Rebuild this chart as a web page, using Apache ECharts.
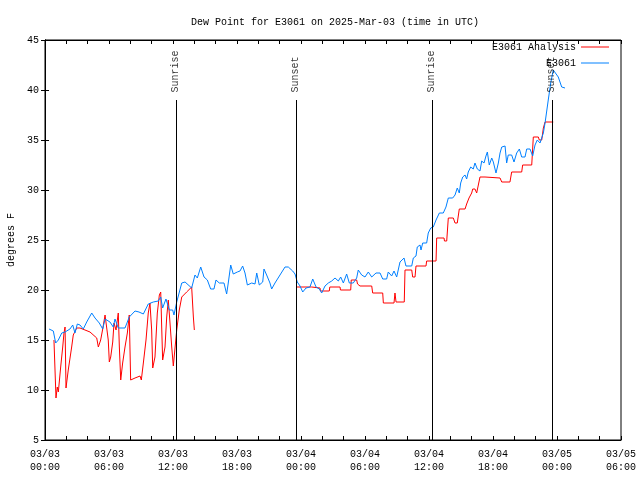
<!DOCTYPE html>
<html>
<head>
<meta charset="utf-8">
<script src="https://cdn.jsdelivr.net/npm/echarts@6/dist/echarts.min.js"></script>
<style>html,body{margin:0;padding:0;background:#fff;}#c{width:640px;height:480px;}</style>
</head>
<body>
<div id="c"></div>
<script>
// Hours since 2025-03-03 00:00 UTC
const obsHours = [0.38,0.78,1.00,1.25,1.57,1.88,2.34,2.60,2.81,3.03,3.28,3.59,3.91,4.38,4.69,5.09,5.41,5.63,6.09,6.40,6.56,6.87,7.50,7.90,8.44,8.81,9.22,9.68,10.15,10.62,10.85,11.03,11.34,11.65,11.97,12.09,12.35,12.82,13.13,13.75,14.06,14.28,14.60,14.91,15.22,15.53,15.84,16.03,16.34,16.78,17.03,17.18,17.41,17.65,18.03,18.28,18.53,18.75,18.97,19.38,19.69,19.85,20.09,20.41,20.53,20.78,21.09,21.25,21.56,22.03,22.50,22.81,23.22,23.44,23.65,23.91,24.16,24.47,24.84,25.10,25.41,25.72,25.94,26.25,26.56,26.88,27.19,27.50,27.72,27.97,28.28,28.53,28.90,29.22,29.37,29.69,30.00,30.31,30.63,31.03,31.41,31.66,32.03,32.18,32.50,32.72,32.97,33.28,33.66,33.84,34.38,34.53,34.78,34.90,35.16,35.25,35.41,35.78,35.93,36.16,36.40,36.66,36.97,37.34,37.59,37.81,38.22,38.44,38.65,38.84,38.97,39.16,39.38,39.53,39.68,39.91,40.15,40.31,40.53,40.78,40.94,41.16,41.34,41.47,41.65,41.88,42.03,42.28,42.50,42.66,42.82,43.13,43.28,43.43,43.75,43.97,44.22,44.47,44.69,45.00,45.16,45.47,45.72,45.94,46.15,46.41,46.57,46.72,46.88,47.18,47.41,47.65,47.81,48.12,48.44,48.75];
const obsValues = [16.1,15.9,14.7,15.0,15.7,15.8,16.1,16.5,15.7,16.6,16.5,16.1,16.8,17.7,17.2,16.7,16.1,17.1,16.8,16.3,17.1,16.2,16.2,17.3,17.9,17.8,17.6,18.6,18.8,18.9,19.3,18.2,19.1,18.0,18.0,17.5,18.8,20.7,20.8,20.2,21.5,21.2,22.3,21.3,21.0,20.1,20.1,21.0,20.7,20.7,19.6,20.7,22.5,21.6,21.8,21.9,22.4,21.7,20.5,20.7,20.6,21.7,20.5,20.8,22.1,21.5,20.7,20.1,20.7,21.5,22.3,22.3,21.9,21.6,20.8,20.4,19.8,20.2,20.3,21.1,20.3,20.1,19.7,20.4,20.7,20.9,21.2,20.9,21.3,20.7,21.6,20.7,20.7,21.2,22.0,21.5,21.3,21.8,21.3,21.7,21.7,21.1,21.1,21.8,21.4,21.9,21.3,22.8,23.2,22.4,22.4,23.2,23.4,24.3,24.5,24.0,24.7,24.7,25.7,26.2,26.3,27.0,27.7,27.7,28.3,29.2,29.2,29.5,30.2,29.7,30.7,31.3,31.5,31.1,31.8,32.3,32.1,32.7,32.1,31.9,32.9,32.7,33.4,33.8,32.5,33.2,32.8,31.7,32.7,33.7,34.3,34.4,32.7,33.5,33.5,32.8,33.7,34.1,33.3,33.3,34.1,34.1,33.4,34.5,35.0,34.7,34.8,35.7,36.7,39.0,40.7,42.0,42.2,41.3,40.3,40.2];

const anaHours = [0.84,1.03,1.15,1.25,1.47,1.66,1.78,1.88,1.97,2.18,2.50,2.65,2.97,3.28,3.75,4.22,4.85,5.00,5.22,5.41,5.63,5.78,5.93,6.03,6.16,6.35,6.47,6.66,6.87,6.97,7.10,7.28,7.50,7.72,7.90,8.03,8.44,8.91,9.03,9.22,9.47,9.68,9.84,10.00,10.10,10.31,10.53,10.72,10.85,10.94,11.03,11.25,11.41,11.56,11.72,11.88,12.03,12.19,12.35,12.59,12.82,13.28,13.75,13.90,13.91,14.00,19.00,23.63,25.00,25.10,25.78,25.83,26.65,26.70,27.66,27.70,28.66,28.71,29.22,29.30,29.53,30.63,30.72,31.66,31.72,32.72,32.81,32.91,33.68,33.75,34.38,34.47,34.69,34.78,35.72,35.78,36.66,36.72,37.41,37.45,37.66,37.81,38.28,38.44,38.65,38.84,39.38,39.53,39.75,40.00,40.10,40.31,40.47,40.62,40.78,41.25,41.34,42.66,42.82,43.59,43.75,44.69,44.78,45.63,45.78,46.25,46.34,46.57,46.72,46.88,47.65];
const anaValues = [15.0,9.2,10.3,9.8,12.3,14.3,15.7,16.3,10.2,12.0,14.3,15.5,16.2,16.2,16.0,15.8,15.2,14.3,15.0,16.1,17.5,17.7,15.0,12.8,13.3,14.8,16.7,16.0,17.7,14.3,11.0,12.7,14.3,15.7,17.5,11.0,11.2,11.4,11.0,12.7,15.0,17.7,18.7,16.0,12.2,13.3,17.7,19.5,19.8,16.3,13.0,14.3,17.3,19.0,16.7,14.3,12.4,14.2,16.0,18.0,19.3,19.8,20.3,20.3,17.3,16.0,null,20.3,20.3,20.2,20.2,19.9,19.9,20.3,20.3,20.0,20.0,21.0,21.0,20.6,20.4,20.4,19.7,19.7,18.7,18.7,19.7,18.8,18.8,22.0,22.0,21.3,21.3,22.4,22.4,22.9,22.9,25.2,25.2,24.9,24.9,27.2,27.2,26.7,26.7,28.1,28.1,28.6,29.2,29.7,30.1,30.1,29.7,29.7,31.3,31.3,31.2,31.2,30.8,30.8,31.8,31.8,32.5,32.5,35.3,35.3,35.0,35.0,36.2,36.8,36.8];

const sunHours = [12.28, 23.53, 36.28, 47.53];
const sunNames = ['Sunrise', 'Sunset', 'Sunrise', 'Sunset'];

const xTickLabels = ['03/03\n00:00','03/03\n06:00','03/03\n12:00','03/03\n18:00','03/04\n00:00','03/04\n06:00','03/04\n12:00','03/04\n18:00','03/05\n00:00','03/05\n06:00'];

const seriesNames = ['E3061 Analysis', 'E3061'];
const seriesColors = ['#ff0000', '#0080ff'];
const titleText = 'Dew Point for E3061 on 2025-Mar-03 (time in UTC)';
const yName = 'degrees F';

const FONT = 'Liberation Mono';
const chart = echarts.init(document.getElementById('c'), null, {renderer: 'canvas'});

const zip = (xs, ys) => xs.map((x, i) => [x, ys[i]]);

const xCommon = {
  type: 'value', min: 0, max: 54, interval: 6,
  axisLine: {show: true, lineStyle: {color: '#000', width: 1}},
  axisTick: {show: true, inside: true, length: 4, lineStyle: {color: '#000'}},
  minorTick: {show: true, splitNumber: 3, length: 4, lineStyle: {color: '#000'}},
  splitLine: {show: false}, minorSplitLine: {show: false}
};
const yCommon = {
  type: 'value', min: 5, max: 45, interval: 5,
  axisLine: {show: true, lineStyle: {color: '#000', width: 1}},
  axisTick: {show: true, inside: true, length: 4, lineStyle: {color: '#000'}},
  splitLine: {show: false}
};

chart.setOption({
  animation: false,
  backgroundColor: '#fff',
  title: {
    text: titleText, left: 186, top: 12,
    textStyle: {fontFamily: FONT, fontSize: 10, fontWeight: 'normal', color: '#000'}
  },
  legend: {
    data: seriesNames.map((n, i) => ({name: n, icon: 'rect', itemStyle: {color: seriesColors[i]}})),
    orient: 'vertical', align: 'right', right: 31, top: 42,
    padding: 0, itemWidth: 28, itemHeight: 1, itemGap: 6,
    textStyle: {fontFamily: FONT, fontSize: 10, color: '#000'}
  },
  grid: {left: 45, right: 19, top: 40, bottom: 40, show: true, borderColor: '#000', borderWidth: 1,
    containLabel: false, outerBoundsMode: 'none'},
  xAxis: [
    Object.assign({}, xCommon, {
      position: 'bottom',
      axisLabel: {show: true, margin: 8, color: '#000', fontFamily: FONT, fontSize: 10, lineHeight: 13,
        formatter: v => xTickLabels[Math.round(v / 6)]}
    }),
    Object.assign({}, xCommon, {position: 'top', axisLabel: {show: false}})
  ],
  yAxis: [
    Object.assign({}, yCommon, {
      position: 'left', name: yName, nameLocation: 'middle', nameRotate: 90, nameGap: 29,
      nameTextStyle: {fontFamily: FONT, fontSize: 10, color: '#000'},
      axisLabel: {show: true, margin: 6, color: '#000', fontFamily: FONT, fontSize: 10}
    }),
    Object.assign({}, yCommon, {position: 'right', axisLabel: {show: false}})
  ],
  series: [
    {
      name: seriesNames[0], type: 'line', data: zip(anaHours, anaValues),
      showSymbol: false, symbol: 'none', connectNulls: false,
      lineStyle: {color: seriesColors[0], width: 1}, itemStyle: {color: seriesColors[0]}, z: 2
    },
    {
      name: seriesNames[1], type: 'line', data: zip(obsHours, obsValues),
      showSymbol: false, symbol: 'none',
      lineStyle: {color: seriesColors[1], width: 1}, itemStyle: {color: seriesColors[1]}, z: 3
    },
    {
      name: 'sun', type: 'line', data: [], z: 4, silent: true,
      markLine: {
        silent: true, symbol: ['none', 'none'], label: {show: false},
        lineStyle: {color: '#000', width: 1, type: 'solid'},
        data: sunHours.map(h => [{coord: [h, 5]}, {coord: [h, 39]}])
      }
    },
    {
      name: 'sunLabels', type: 'scatter', z: 5, silent: true,
      symbolSize: 1, itemStyle: {color: 'rgba(0,0,0,0)'},
      data: sunHours.map((h, i) => ({value: [h, 39.7], name: sunNames[i]})),
      label: {show: true, position: [0, 0], rotate: 90, align: 'left', verticalAlign: 'middle',
        formatter: p => p.name, color: '#000', fontFamily: FONT, fontSize: 10}
    }
  ]
});
</script>
</body>
</html>
